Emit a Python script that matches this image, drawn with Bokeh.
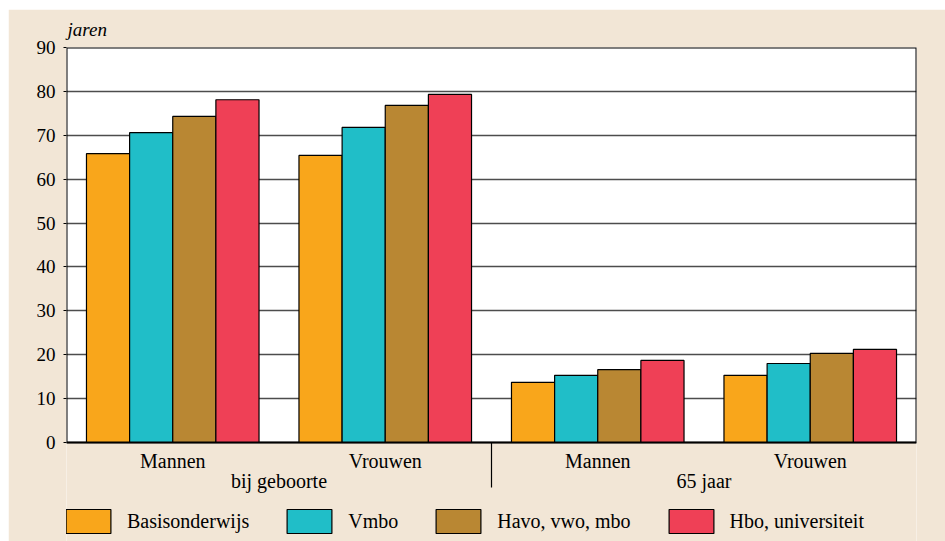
from bokeh.plotting import figure
from bokeh.models import Range1d, FixedTicker, Legend, LegendItem, Title
from bokeh.core.properties import value
from bokeh.embed import file_html
from bokeh.resources import INLINE

# ---- data ----
groups = ["bij geboorte", "65 jaar"]
sexes = ["Mannen", "Vrouwen", "Mannen", "Vrouwen"]
levels = ["Basisonderwijs", "Vmbo", "Havo, vwo, mbo", "Hbo, universiteit"]
basis = [65.8, 65.4, 13.7, 15.3]
vmbo = [70.6, 71.8, 15.3, 18.0]
havo = [74.3, 76.8, 16.6, 20.3]
hbo = [78.1, 79.3, 18.7, 21.2]
y_ticks = [0, 10, 20, 30, 40, 50, 60, 70, 80, 90]
y_unit = "jaren"

series = [basis, vmbo, havo, hbo]
colors = ["#F9A61B", "#20BEC8", "#B98733", "#EF4056"]
beige = "#F2E6D6"
FONT = "Liberation Serif"
FS = "19px"
FL = "20px"

# layout: plot area 395 px for 0..90; frame extends 99 px below 0 for labels/legend
PX_PER_UNIT = 395 / 90.0
Y_MIN = -99 / PX_PER_UNIT
Y_MAX = max(y_ticks)
n_cat = len(sexes)

p = figure(frame_width=850, frame_height=494, margin=(9, 0, 0, 8),
           output_backend="svg", toolbar_location=None,
           x_range=Range1d(0, n_cat), y_range=Range1d(Y_MIN, Y_MAX),
           min_border_left=58, min_border_right=29, min_border_top=38,
           min_border_bottom=0)
p.background_fill_color = "white"
p.border_fill_color = beige
p.outline_line_color = None
p.xaxis.visible = False
p.xgrid.visible = False
p.ygrid.ticker = FixedTicker(ticks=y_ticks)
p.ygrid.grid_line_color = "#4d4d4d"
p.ygrid.grid_line_width = 1.4

ya = p.yaxis[0]
ya.ticker = FixedTicker(ticks=y_ticks)
ya.axis_line_color = None
ya.major_tick_line_color = "black"
ya.major_tick_out = 3
ya.major_tick_in = 0
ya.minor_tick_line_color = None
ya.major_label_standoff = 8
ya.major_label_text_font = FONT
ya.major_label_text_font_size = FS
ya.major_label_text_color = "black"

# beige area below the plot (label / legend zone), slightly wider than the frame
p.quad(left=[-0.05], right=[n_cat + 0.05], bottom=[Y_MIN - 1], top=[0], fill_color=beige,
       line_color=None, level="underlay")

width = 0.203
offsets = [-0.3045, -0.1015, 0.1015, 0.3045]
renderers = []
for vals, off, col in zip(series, offsets, colors):
    xs = [i + 0.5 + off for i in range(len(vals))]
    r = p.vbar(x=xs, top=vals, width=width, bottom=0, fill_color=col,
               line_color="black", line_width=1.2)
    renderers.append(r)

# plot-area border
p.quad(left=[0], right=[n_cat], bottom=[0], top=[Y_MAX], fill_color=None,
       line_color="black", line_width=2)

# category labels and group labels
p.text(x=[i + 0.5 for i in range(n_cat)], y=[-18 / PX_PER_UNIT] * n_cat, text=sexes,
       text_align="center", text_baseline="middle", text_font=value(FONT),
       text_font_size=value(FL), text_color="black")
p.text(x=[1, 3], y=[-38 / PX_PER_UNIT] * 2, text=groups,
       text_align="center", text_baseline="middle", text_font=value(FONT),
       text_font_size=value(FL), text_color="black")
# group separator
p.segment(x0=[n_cat / 2], y0=[0], x1=[n_cat / 2], y1=[-45 / PX_PER_UNIT],
          line_color="black", line_width=1.2)

legend = Legend(items=[LegendItem(label=l, renderers=[r]) for l, r in zip(levels, renderers)],
                orientation="horizontal", location=(-6, 5),
                glyph_width=56, glyph_height=30, label_standoff=11, spacing=32,
                padding=0, margin=0, border_line_color=None, background_fill_alpha=0,
                label_text_font=FONT, label_text_font_size=FL, label_text_color="black")
p.add_layout(legend, "center")

t = Title(text=y_unit, text_font=FONT, text_font_size=FS, text_font_style="italic",
          align="left", standoff=15, offset=1, text_color="black")
p.add_layout(t, "above")

open("out.html", "w").write(file_html(p, INLINE))
